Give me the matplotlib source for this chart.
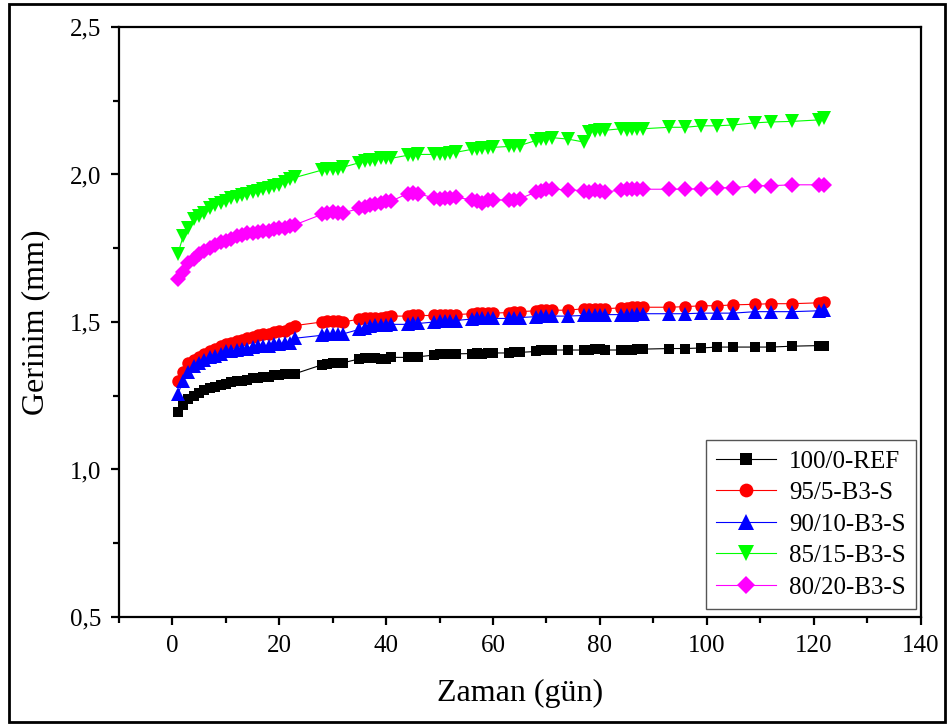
import matplotlib
matplotlib.use("Agg")
import matplotlib.pyplot as plt
from matplotlib.patches import Rectangle
from matplotlib.ticker import MultipleLocator

plt.rcParams['font.family'] = ['Liberation Serif', 'DejaVu Serif']

# Measurement days (gün)
days = list(range(1, 24)) + [28, 29, 30, 31, 32,
        35, 36, 37, 38, 39, 40, 41,
        44, 45, 46,
        49, 50, 51, 52, 53,
        56, 57, 58, 59, 60,
        63, 64, 65,
        68, 69, 70, 71,
        74,
        77, 78, 79, 80, 81,
        84, 85, 86, 87, 88,
        93, 96, 99, 102, 105, 109, 112, 116, 121, 122]

ref_100_0 = [1.195, 1.22, 1.24, 1.25, 1.26, 1.27, 1.275, 1.28, 1.285, 1.29, 1.295, 1.30,
             1.30, 1.305, 1.31, 1.31, 1.315, 1.315, 1.32, 1.32, 1.325, 1.325, 1.325,
             1.355, 1.358, 1.36, 1.36, 1.362,
             1.375, 1.378, 1.378, 1.378, 1.375, 1.375, 1.38,
             1.38, 1.382, 1.382,
             1.388, 1.39, 1.39, 1.39, 1.392,
             1.393, 1.395, 1.393, 1.395, 1.395,
             1.395, 1.397, 1.397,
             1.40, 1.405, 1.405, 1.405,
             1.405,
             1.405, 1.405, 1.41, 1.41, 1.405,
             1.405, 1.405, 1.405, 1.408, 1.408,
             1.41, 1.41, 1.412, 1.415, 1.415, 1.415, 1.415, 1.418, 1.42, 1.42]

b3s_95_5 = [1.30, 1.33, 1.36, 1.37, 1.38, 1.39, 1.40, 1.41, 1.42, 1.425, 1.43, 1.435,
            1.44, 1.445, 1.45, 1.455, 1.46, 1.46, 1.465, 1.47, 1.47, 1.48, 1.488,
            1.50, 1.502, 1.505, 1.505, 1.50,
            1.51, 1.512, 1.515, 1.515, 1.515, 1.518, 1.52,
            1.52, 1.522, 1.522,
            1.522, 1.525, 1.525, 1.525, 1.525,
            1.528, 1.53, 1.53, 1.53, 1.53,
            1.532, 1.535, 1.535,
            1.538, 1.54, 1.54, 1.54,
            1.54,
            1.545, 1.545, 1.545, 1.545, 1.545,
            1.548, 1.548, 1.55, 1.55, 1.55,
            1.55, 1.552, 1.555, 1.555, 1.558, 1.56, 1.562, 1.562, 1.565, 1.568]

b3s_90_10 = [1.255, 1.30, 1.33, 1.35, 1.36, 1.37, 1.38, 1.385, 1.39, 1.40, 1.40, 1.405,
             1.41, 1.41, 1.415, 1.42, 1.42, 1.42, 1.425, 1.425, 1.43, 1.43, 1.445,
             1.455, 1.458, 1.46, 1.46, 1.46,
             1.475, 1.48, 1.485, 1.49, 1.49, 1.49, 1.492,
             1.492, 1.495, 1.495,
             1.50, 1.502, 1.505, 1.505, 1.505,
             1.51, 1.512, 1.512, 1.512, 1.512,
             1.512, 1.515, 1.515,
             1.518, 1.52, 1.52, 1.52,
             1.52,
             1.522, 1.522, 1.525, 1.525, 1.525,
             1.525, 1.525, 1.525, 1.528, 1.528,
             1.528, 1.528, 1.53, 1.53, 1.53, 1.535, 1.535, 1.535, 1.538, 1.54]

b3s_85_15 = [1.73, 1.79, 1.82, 1.85, 1.86, 1.87, 1.885, 1.895, 1.905, 1.91, 1.92, 1.925,
             1.93, 1.935, 1.94, 1.945, 1.95, 1.955, 1.96, 1.965, 1.975, 1.985, 1.99,
             2.015, 2.02, 2.02, 2.02, 2.025,
             2.04, 2.045, 2.05, 2.05, 2.055, 2.055, 2.055,
             2.065, 2.065, 2.068,
             2.068, 2.07, 2.07, 2.072, 2.075,
             2.085, 2.088, 2.09, 2.09, 2.092,
             2.095, 2.095, 2.098,
             2.115, 2.12, 2.12, 2.125,
             2.12,
             2.11, 2.145, 2.148, 2.15, 2.15,
             2.155, 2.152, 2.155, 2.155, 2.155,
             2.16, 2.16, 2.165, 2.165, 2.168, 2.175, 2.178, 2.18, 2.185, 2.19]

b3s_80_20 = [1.645, 1.67, 1.70, 1.715, 1.73, 1.74, 1.75, 1.76, 1.77, 1.775, 1.78, 1.79,
             1.795, 1.80, 1.80, 1.805, 1.81, 1.81, 1.815, 1.82, 1.82, 1.825, 1.83,
             1.865, 1.87, 1.872, 1.87, 1.87,
             1.885, 1.89, 1.895, 1.90, 1.905, 1.91, 1.91,
             1.935, 1.938, 1.935,
             1.92, 1.918, 1.92, 1.92, 1.922,
             1.915, 1.91, 1.905, 1.912, 1.915,
             1.912, 1.915, 1.918,
             1.94, 1.945, 1.95, 1.95,
             1.948,
             1.945, 1.94, 1.948, 1.945, 1.94,
             1.948, 1.95, 1.95, 1.952, 1.95,
             1.95, 1.95, 1.952, 1.955, 1.955, 1.962, 1.962, 1.965, 1.965, 1.965]

series_labels = ['100/0-REF', '95/5-B3-S', '90/10-B3-S', '85/15-B3-S', '80/20-B3-S']
series_values = [ref_100_0, b3s_95_5, b3s_90_10, b3s_85_15, b3s_80_20]
colors = ['#000000', '#ff0000', '#0000ff', '#00ff00', '#ff00ff']
markers = ['s', 'o', '^', 'v', 'D']
msizes = [7.6, 9.0, 10.5, 10.5, 8.6]

x_ticks = [0, 20, 40, 60, 80, 100, 120, 140]
y_ticks = [0.5, 1.0, 1.5, 2.0, 2.5]
y_tick_labels = ['0,5', '1,0', '1,5', '2,0', '2,5']

fig = plt.figure(figsize=(9.48, 7.27), dpi=100)
ax = fig.add_axes([0.1255, 0.1513, 0.8455, 0.8116])

for lab, vals, c, m, ms in zip(series_labels, series_values, colors, markers, msizes):
    ax.plot(days, vals, color=c, marker=m, markersize=ms, linewidth=0.8,
            markeredgewidth=0, label=lab)

ax.set_xlim(-10, 140)
ax.set_ylim(0.5, 2.5)
ax.set_xticks(x_ticks)
ax.set_yticks(y_ticks)
ax.set_yticklabels(y_tick_labels)
ax.xaxis.set_minor_locator(MultipleLocator(10))
ax.yaxis.set_minor_locator(MultipleLocator(0.25))

for s in ax.spines.values():
    s.set_linewidth(1.6)
ax.tick_params(axis='both', which='major', direction='out', length=6, width=1.6,
               labelsize=18, pad=7, top=False, right=False)
ax.tick_params(axis='both', which='minor', direction='out', length=4, width=1.6,
               top=False, right=False)

ax.set_xlabel('Zaman (gün)', fontsize=23, labelpad=16)
ax.set_ylabel('Gerinim (mm)', fontsize=23, labelpad=14)

leg = ax.legend(loc='lower right', fontsize=18, frameon=True, fancybox=False,
                edgecolor='#555555', framealpha=1, borderpad=0.4,
                handlelength=2.4, handletextpad=0.5, labelspacing=0.36,
                borderaxespad=0.1, markerscale=1.1, bbox_to_anchor=(0.997, 0.01))
leg.get_frame().set_linewidth(1.0)

fig.patches.append(Rectangle((0.009, 0.007), 0.988, 0.988, transform=fig.transFigure,
                             fill=False, edgecolor='black', linewidth=2))

fig.savefig('out.png', dpi=100)
